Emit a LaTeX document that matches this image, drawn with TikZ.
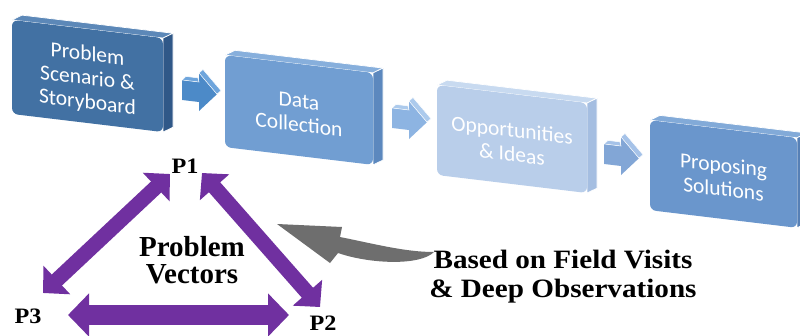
\documentclass[tikz,border=0pt]{standalone}
\usepackage{fontspec}
\setmainfont{Liberation Serif}
\newfontfamily\boxfont{Carlito}
\newfontfamily\labfont[FakeStretch=1.1]{Liberation Serif}
\usetikzlibrary{arrows.meta}
\definecolor{bAfront}{RGB}{66,113,163}
\definecolor{bAside}{RGB}{48,88,136}
\definecolor{bAtop}{RGB}{92,136,184}
\definecolor{bBfront}{RGB}{113,158,210}
\definecolor{bBside}{RGB}{92,136,190}
\definecolor{bBtop}{RGB}{135,175,220}
\definecolor{bCfront}{RGB}{185,206,234}
\definecolor{bCside}{RGB}{165,190,225}
\definecolor{bCtop}{RGB}{200,218,240}
\definecolor{bDfront}{RGB}{106,150,204}
\definecolor{bDside}{RGB}{86,128,182}
\definecolor{bDtop}{RGB}{130,170,216}
\definecolor{arA}{RGB}{76,138,200}
\definecolor{arAt}{RGB}{110,165,220}
\definecolor{arB}{RGB}{141,180,226}
\definecolor{arBt}{RGB}{172,202,236}
\definecolor{arC}{RGB}{130,166,214}
\definecolor{arCt}{RGB}{165,194,232}
\definecolor{vpurple}{RGB}{112,48,160}
\definecolor{gArrow}{RGB}{110,110,110}
\tikzset{
  boxtext/.style={text=white, font=\boxfont\fontsize{21.5}{24}\selectfont, align=center, inner sep=0pt},
  plabel/.style={font=\labfont\bfseries\fontsize{22}{24}\selectfont, inner sep=0pt},
  bigtext/.style={font=\bfseries\fontsize{29}{27.5}\selectfont, align=center, inner sep=0pt},
  notetext/.style={font=\labfont\bfseries\fontsize{26.5}{29.5}\selectfont, align=center, inner sep=0pt},
  pdiag/.style={draw=vpurple, line width=15pt, {Triangle[width=38pt,length=19pt]}-{Triangle[width=38pt,length=19pt]}},
  pflat/.style={draw=vpurple, line width=20pt, {Triangle[width=42pt,length=21pt]}-{Triangle[width=42pt,length=21pt]}},
}
% name, cx, cy, w, h, front, side, top, text
\newcommand\myslab[9]{%
  \begin{scope}[shift={(#2,#3)},yslant=-0.12]
    \fill[#8,draw=white,line width=0.7pt,line join=round]
      (-#4/2,-#5/2) -- (-#4/2+10,-#5/2-6) -- (#4/2+10,-#5/2-6) -- (#4/2,-#5/2) -- cycle;
    \fill[#7,draw=white,line width=0.7pt,line join=round]
      (#4/2,-#5/2) -- (#4/2+10,-#5/2-6) -- (#4/2+10,#5/2-6) -- (#4/2,#5/2) -- cycle;
    \fill[#6,rounded corners=6pt] (-#4/2,-#5/2) rectangle (#4/2,#5/2);
    \node[boxtext,transform shape] (#1) at (0,3) {#9};
  \end{scope}}
% cx, cy, fill, top fill
\newcommand\blockarrow[4]{%
  \begin{scope}[shift={(#1,#2)},yslant=-0.12]
    \fill[#3] (-17,-10) -- (0,-10) -- (0,-19) -- (18,0) -- (0,19) -- (0,10) -- (-17,10) -- cycle;
    \fill[#4,draw=white,line width=0.5pt] (-17,-10) -- (-13,-14) -- (-1,-14) -- (0,-10) -- cycle;
    \fill[#4,draw=white,line width=0.5pt] (0,-19) -- (4,-23) -- (22,-4) -- (18,0) -- cycle;
  \end{scope}}
\begin{document}
\begin{tikzpicture}[x=1pt,y=-1pt]
\useasboundingbox (0,0) rectangle (800,335);
\fill[white] (0,0) rectangle (800,335);
% top process row
\myslab{b1}{87.5}{76}{151}{94}{bAfront}{bAside}{bAtop}{Problem\\Scenario \&\\Storyboard}
\myslab{b2}{299}{110}{148}{92}{bBfront}{bBside}{bBtop}{Data\\Collection}
\myslab{b3}{512}{139}{150}{90}{bCfront}{bCside}{bCtop}{Opportunities\\\& Ideas}
\myslab{b4}{723.5}{174}{147}{90}{bDfront}{bDside}{bDtop}{Proposing\\Solutions}
\blockarrow{199}{92}{arA}{arAt}
\blockarrow{409}{120}{arB}{arBt}
\blockarrow{621}{156}{arC}{arCt}
% problem vectors triangle
\node[plabel,anchor=base] (p1) at (185,173) {P1};
\node[plabel,anchor=base] (p2) at (323,330) {P2};
\node[plabel,anchor=base] (p3) at (28,323) {P3};
\coordinate (p1l) at (170,174);
\coordinate (p1r) at (202,173);
\coordinate (p3u) at (43,293);
\coordinate (p3r) at (68,315);
\coordinate (p2u) at (320,307);
\coordinate (p2l) at (289,315);
\draw[pdiag] (p3u) -- (p1l);
\draw[pdiag] (p1r) -- (p2u);
\draw[pflat] (p3r) -- (p2l);
\node[bigtext] (pv) at (192,260) {Problem\\Vectors};
% note and grey arrow
\node[notetext] (note) at (563,276.5) {Based on Field Visits\\\& Deep Observations};
\fill[gArrow] (277,224) -- (342,227) -- (340,237)
  .. controls (375,244) and (405,252) .. (434,252)
  .. controls (420,266) and (370,264) .. (338,253) -- (330,263) -- cycle;
\end{tikzpicture}
\end{document}
